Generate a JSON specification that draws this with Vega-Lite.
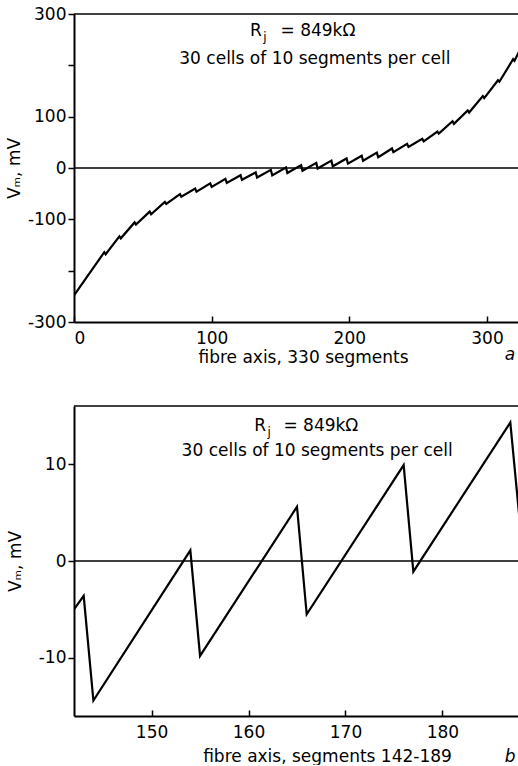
{
  "$schema": "https://vega.github.io/schema/vega-lite/v6.json",
  "padding": {"left": 5, "top": 5, "right": 0, "bottom": 0},
  "background": "white",
  "config": {
    "view": {"stroke": null},
    "font": "DejaVu Sans",
    "concat": {"spacing": 40},
    "axis": {
      "grid": false,
      "domainColor": "black",
      "domainWidth": 2,
      "tickColor": "black",
      "tickWidth": 1.5,
      "labelColor": "black",
      "titleColor": "black",
      "labelFont": "DejaVu Sans",
      "titleFont": "DejaVu Sans",
      "labelFontSize": 17,
      "titleFontSize": 17,
      "titleFontWeight": "normal"
    }
  },
  "datasets": {
    "full": [
      {"segment": 0, "vm": -248},
      {"segment": 22, "vm": -164}, {"segment": 23, "vm": -168},
      {"segment": 33, "vm": -133}, {"segment": 34, "vm": -137},
      {"segment": 44, "vm": -106}, {"segment": 45, "vm": -110},
      {"segment": 55, "vm": -85}, {"segment": 56, "vm": -90},
      {"segment": 66, "vm": -66}, {"segment": 67, "vm": -70},
      {"segment": 77, "vm": -51}, {"segment": 78, "vm": -56},
      {"segment": 88, "vm": -40}, {"segment": 89, "vm": -46},
      {"segment": 99, "vm": -30}, {"segment": 100, "vm": -37},
      {"segment": 110, "vm": -21}, {"segment": 111, "vm": -29},
      {"segment": 121, "vm": -14}, {"segment": 122, "vm": -23},
      {"segment": 132, "vm": -8.5}, {"segment": 133, "vm": -18.5},
      {"segment": 143, "vm": -3.6}, {"segment": 144, "vm": -14.4},
      {"segment": 154, "vm": 1.1}, {"segment": 155, "vm": -9.8},
      {"segment": 165, "vm": 5.6}, {"segment": 166, "vm": -5.5},
      {"segment": 176, "vm": 9.9}, {"segment": 177, "vm": -1.1},
      {"segment": 187, "vm": 14.3}, {"segment": 188, "vm": 3.4},
      {"segment": 198, "vm": 18.5}, {"segment": 199, "vm": 8.5},
      {"segment": 209, "vm": 24}, {"segment": 210, "vm": 14},
      {"segment": 220, "vm": 30}, {"segment": 221, "vm": 21},
      {"segment": 231, "vm": 38}, {"segment": 232, "vm": 31},
      {"segment": 242, "vm": 47}, {"segment": 243, "vm": 41},
      {"segment": 253, "vm": 57}, {"segment": 254, "vm": 52},
      {"segment": 264, "vm": 71}, {"segment": 265, "vm": 67},
      {"segment": 275, "vm": 91}, {"segment": 276, "vm": 86},
      {"segment": 286, "vm": 112}, {"segment": 287, "vm": 108},
      {"segment": 297, "vm": 140}, {"segment": 298, "vm": 136},
      {"segment": 308, "vm": 171}, {"segment": 309, "vm": 168},
      {"segment": 319, "vm": 212}, {"segment": 320, "vm": 209},
      {"segment": 330, "vm": 262}
    ],
    "zoom": [
      {"segment": 142, "vm": -5.0},
      {"segment": 143, "vm": -3.6}, {"segment": 144, "vm": -14.4},
      {"segment": 154, "vm": 1.1}, {"segment": 155, "vm": -9.8},
      {"segment": 165, "vm": 5.6}, {"segment": 166, "vm": -5.5},
      {"segment": 176, "vm": 9.9}, {"segment": 177, "vm": -1.1},
      {"segment": 187, "vm": 14.3}, {"segment": 188, "vm": 3.8}
    ],
    "linesA": [{"vm": 0}, {"vm": 300}],
    "linesB": [{"vm": 0}, {"vm": 16}],
    "notesA": [
      {"segment": 127.8, "vm": 266, "label": "R"},
      {"segment": 150, "vm": 266, "label": "= 849kΩ"},
      {"segment": 76.5, "vm": 212, "label": "30 cells of 10 segments per cell"}
    ],
    "subA": [{"segment": 137.4, "vm": 255, "label": "j"}],
    "panelA": [{"segment": 320.5, "vm": -364, "label": "a"}],
    "notesB": [
      {"segment": 160.6, "vm": 13.95, "label": "R"},
      {"segment": 163.6, "vm": 13.95, "label": "= 849kΩ"},
      {"segment": 153.1, "vm": 11.4, "label": "30 cells of 10 segments per cell"}
    ],
    "subB": [{"segment": 161.95, "vm": 13.3, "label": "j"}],
    "panelB": [{"segment": 187.55, "vm": -20.2, "label": "b"}]
  },
  "vconcat": [
    {
      "width": 446,
      "height": 308,
      "layer": [
        {
          "data": {"name": "full"},
          "mark": {"type": "line", "color": "black", "strokeWidth": 2.2, "clip": true},
          "encoding": {
            "x": {
              "field": "segment", "type": "quantitative",
              "scale": {"domain": [0, 324], "nice": false, "zero": false},
              "axis": {
                "title": "fibre axis, 330 segments",
                "values": [0, 100, 200, 300],
                "tickSize": -6,
                "labelPadding": 14,
                "titlePadding": 3,
                "titleX": 229
              }
            },
            "y": {
              "field": "vm", "type": "quantitative",
              "scale": {"domain": [-300, 300], "nice": false},
              "axis": {
                "title": "Vₘ, mV",
                "values": [-300, -200, -100, 0, 100, 200, 300],
                "labelExpr": "abs(datum.value) == 200 ? '' : '' + datum.value",
                "tickSize": 6,
                "labelPadding": 2,
                "titlePadding": 4
              }
            }
          }
        },
        {
          "data": {"name": "linesA"},
          "mark": {"type": "rule", "color": "black", "strokeWidth": 1.6},
          "encoding": {"y": {"field": "vm", "type": "quantitative"}}
        },
        {
          "data": {"name": "notesA"},
          "mark": {"type": "text", "align": "left", "baseline": "middle", "fontSize": 17, "color": "black"},
          "encoding": {
            "x": {"field": "segment", "type": "quantitative"},
            "y": {"field": "vm", "type": "quantitative"},
            "text": {"field": "label"}
          }
        },
        {
          "data": {"name": "subA"},
          "mark": {"type": "text", "align": "left", "baseline": "middle", "fontSize": 12, "color": "black"},
          "encoding": {
            "x": {"field": "segment", "type": "quantitative"},
            "y": {"field": "vm", "type": "quantitative"},
            "text": {"field": "label"}
          }
        },
        {
          "data": {"name": "panelA"},
          "mark": {"type": "text", "align": "right", "baseline": "middle", "fontSize": 17, "fontStyle": "italic", "color": "black"},
          "encoding": {
            "x": {"field": "segment", "type": "quantitative"},
            "y": {"field": "vm", "type": "quantitative"},
            "text": {"field": "label"}
          }
        }
      ]
    },
    {
      "width": 446,
      "height": 310,
      "layer": [
        {
          "data": {"name": "zoom"},
          "mark": {"type": "line", "color": "black", "strokeWidth": 2.2, "clip": true},
          "encoding": {
            "x": {
              "field": "segment", "type": "quantitative",
              "scale": {"domain": [142, 188], "nice": false, "zero": false},
              "axis": {
                "title": "fibre axis, segments 142-189",
                "values": [150, 160, 170, 180],
                "tickSize": -6,
                "labelPadding": 14,
                "titlePadding": 8,
                "titleX": 253
              }
            },
            "y": {
              "field": "vm", "type": "quantitative",
              "scale": {"domain": [-16, 16], "nice": false, "zero": false},
              "axis": {
                "title": "Vₘ, mV",
                "values": [-10, 0, 10],
                "labelExpr": "'' + datum.value",
                "tickSize": 6,
                "labelPadding": 2,
                "titlePadding": 14
              }
            }
          }
        },
        {
          "data": {"name": "linesB"},
          "mark": {"type": "rule", "color": "black", "strokeWidth": 1.6},
          "encoding": {"y": {"field": "vm", "type": "quantitative"}}
        },
        {
          "data": {"name": "notesB"},
          "mark": {"type": "text", "align": "left", "baseline": "middle", "fontSize": 17, "color": "black"},
          "encoding": {
            "x": {"field": "segment", "type": "quantitative"},
            "y": {"field": "vm", "type": "quantitative"},
            "text": {"field": "label"}
          }
        },
        {
          "data": {"name": "subB"},
          "mark": {"type": "text", "align": "left", "baseline": "middle", "fontSize": 12, "color": "black"},
          "encoding": {
            "x": {"field": "segment", "type": "quantitative"},
            "y": {"field": "vm", "type": "quantitative"},
            "text": {"field": "label"}
          }
        },
        {
          "data": {"name": "panelB"},
          "mark": {"type": "text", "align": "right", "baseline": "middle", "fontSize": 17, "fontStyle": "italic", "color": "black"},
          "encoding": {
            "x": {"field": "segment", "type": "quantitative"},
            "y": {"field": "vm", "type": "quantitative"},
            "text": {"field": "label"}
          }
        }
      ]
    }
  ]
}
